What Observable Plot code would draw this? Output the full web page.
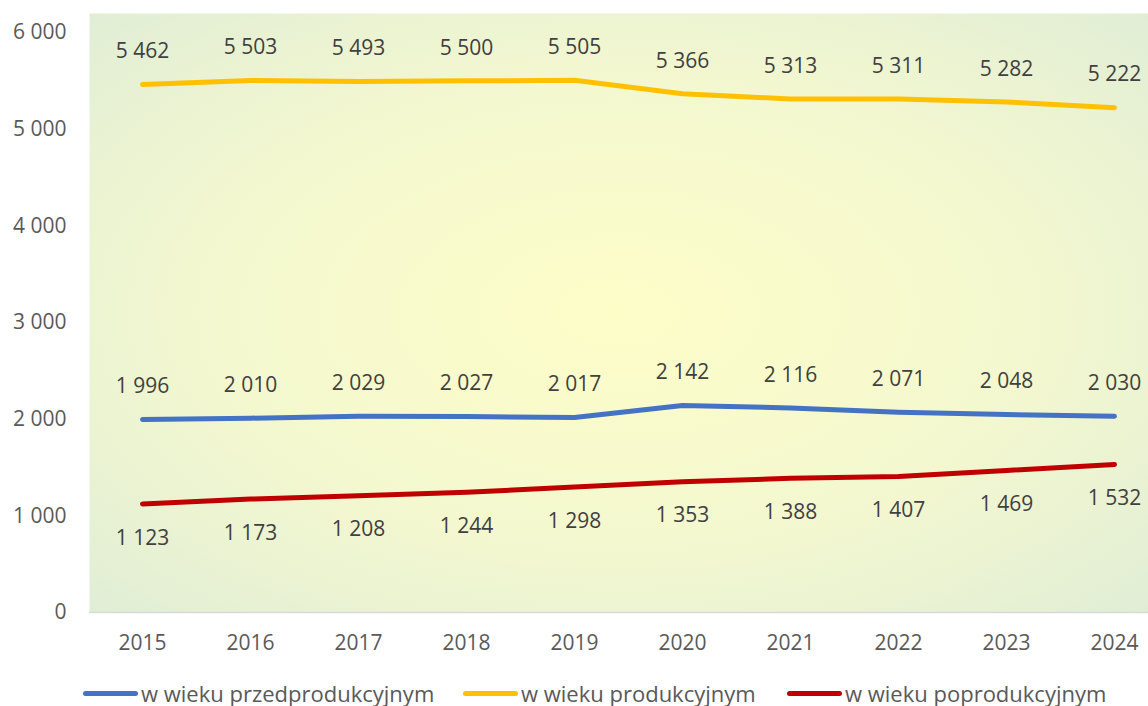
<!DOCTYPE html>
<html>
<head>
<meta charset="utf-8">
<script src="https://cdn.jsdelivr.net/npm/d3@7"></script>
<script src="https://cdn.jsdelivr.net/npm/@observablehq/plot@0.6"></script>
<style>
  html, body { margin: 0; padding: 0; background: #fff; }
  body { width: 1148px; height: 706px; overflow: hidden; font-family: "Open Sans", sans-serif; }
  #legend { position: absolute; left: 0; top: 680px; width: 1148px; height: 26px; font-size: 22px; color: #595959; }
  .item { position: absolute; top: 0; display: flex; align-items: center; height: 26px; }
  .sw { width: 55px; height: 5px; border-radius: 3px; margin-right: 3px; }
</style>
</head>
<body>
<div id="chart"></div>
<div id="legend"></div>
<script>
const years = ["2015","2016","2017","2018","2019","2020","2021","2022","2023","2024"];
const seriesNames = ["w wieku przedprodukcyjnym", "w wieku produkcyjnym", "w wieku poprodukcyjnym"];
const preProd = [1996, 2010, 2029, 2027, 2017, 2142, 2116, 2071, 2048, 2030];
const prod = [5462, 5503, 5493, 5500, 5505, 5366, 5313, 5311, 5282, 5222];
const postProd = [1123, 1173, 1208, 1244, 1298, 1353, 1388, 1407, 1469, 1532];
const yTicks = [0, 1000, 2000, 3000, 4000, 5000, 6000];
const colors = ["#4472C4", "#FFC000", "#C00000"];

const fmt = v => d3.format(",")(v).replace(/,/g, " ");
const rows = (vals, s) => years.map((y, i) => ({year: y, value: vals[i], series: s}));
const dPre = rows(preProd, seriesNames[0]);
const dProd = rows(prod, seriesNames[1]);
const dPost = rows(postProd, seriesNames[2]);

const F = "'Open Sans', sans-serif";
const FS = 21;
const plot = Plot.plot({
  width: 1148,
  height: 672,
  marginLeft: 89,
  marginRight: 0,
  marginTop: 13,
  marginBottom: 60,
  style: {fontFamily: F, background: "transparent"},
  x: {type: "point", domain: years, range: [142, 1114], padding: 0},
  y: {domain: [0, 6000], range: [612, 32]},
  marks: [
    Plot.frame({fill: "#eef5d0", stroke: null}),
    Plot.ruleY([0], {stroke: "#d9d9d9", strokeWidth: 1.5}),
    Plot.axisY({ticks: yTicks, tickSize: 0, tickPadding: 23, tickFormat: fmt, fontSize: FS, fill: "#595959", label: null}),
    Plot.axisX({tickSize: 0, tickPadding: 23, fontSize: FS, fill: "#595959", label: null}),
    Plot.line(dPre, {x: "year", y: "value", stroke: colors[0], strokeWidth: 5, strokeLinecap: "round", strokeLinejoin: "round"}),
    Plot.line(dProd, {x: "year", y: "value", stroke: colors[1], strokeWidth: 5, strokeLinecap: "round", strokeLinejoin: "round"}),
    Plot.line(dPost, {x: "year", y: "value", stroke: colors[2], strokeWidth: 5, strokeLinecap: "round", strokeLinejoin: "round"}),
    Plot.text(dPre, {x: "year", y: "value", text: d => fmt(d.value), dy: -33, fontSize: FS, fill: "#404040"}),
    Plot.text(dProd, {x: "year", y: "value", text: d => fmt(d.value), dy: -33, fontSize: FS, fill: "#404040"}),
    Plot.text(dPost, {x: "year", y: "value", text: d => fmt(d.value), dy: 34, fontSize: FS, fill: "#404040"})
  ]
});

// radial gradient background for the plot area
const ns = "http://www.w3.org/2000/svg";
const defs = document.createElementNS(ns, "defs");
defs.innerHTML = `<radialGradient id="bgGrad" cx="50%" cy="50%" r="75%" gradientUnits="objectBoundingBox">
  <stop offset="0%" stop-color="#fdfdc8"/>
  <stop offset="50%" stop-color="#f4f8cf"/>
  <stop offset="100%" stop-color="#deecd6"/>
</radialGradient>`;
plot.insertBefore(defs, plot.firstChild);
let frame = plot.querySelector('[aria-label="frame"]');
if (frame && frame.tagName.toLowerCase() !== "rect") frame = frame.querySelector("rect");
if (frame) frame.setAttribute("fill", "url(#bgGrad)");

document.getElementById("chart").appendChild(plot);

// legend
const legendPos = [83, 463, 787];
const legend = document.getElementById("legend");
seriesNames.forEach((name, i) => {
  const item = document.createElement("div");
  item.className = "item";
  item.style.left = legendPos[i] + "px";
  item.innerHTML = `<span class="sw" style="background:${colors[i]}"></span><span>${name}</span>`;
  legend.appendChild(item);
});
</script>
</body>
</html>
